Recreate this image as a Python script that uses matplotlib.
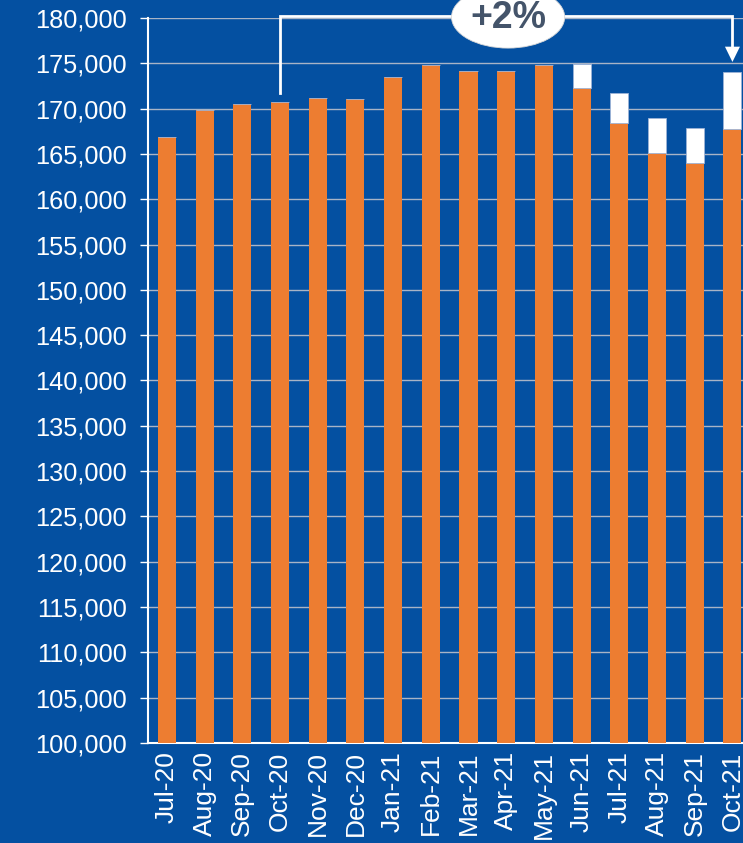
import numpy as np
from matplotlib import pyplot as plt
from matplotlib.patches import Ellipse

months = ['Jul-20','Aug-20','Sep-20','Oct-20','Nov-20','Dec-20','Jan-21','Feb-21',
          'Mar-21','Apr-21','May-21','Jun-21','Jul-21','Aug-21','Sep-21','Oct-21']
# reported values (orange) and the extra part on top (white)
base = [166850,169900,170500,170750,171200,171050,173450,174800,
        174200,174150,174800,172300,168450,165100,164050,167800]
extra = [0,0,0,0,0,0,0,0,0,0,0,2600,3250,3900,3850,6250]
yticks = np.arange(100000,180001,5000)
change_label = '+2%'

bg = '#0450A1'
orange = '#ED7D31'

plt.rcParams['font.family'] = ['Liberation Sans','DejaVu Sans']

fig = plt.figure(figsize=(7.43,8.43),dpi=100)
fig.patch.set_facecolor(bg)
ax = fig.add_axes([148/743, 100/843, 595/743, 725/843])
ax.set_facecolor(bg)

x = np.arange(len(months))
w = 0.48
ax.bar(x, np.array(base)-100000, w, bottom=100000, color=orange, zorder=3)
ax.bar(x, np.array(extra), w, bottom=base, color='white', edgecolor='#9DB3D6',
       linewidth=0.6, zorder=3)

ax.set_ylim(100000,180000)
ax.set_xlim(-0.5, 15.28)
ax.set_yticks(yticks)
ax.set_yticklabels(['{:,}'.format(v) for v in yticks])
ax.set_xticks(x)
ax.set_xticklabels(months, rotation=90)
ax.tick_params(axis='y', colors='white', labelsize=18.3, length=6, width=1, pad=9)
ax.tick_params(axis='x', colors='white', labelsize=19, length=0, pad=6)
ax.grid(axis='y', color='#A9B4C6', linewidth=1, zorder=0)
for s in ['top','right']:
    ax.spines[s].set_visible(False)
for s in ['left','bottom']:
    ax.spines[s].set_color('white')
    ax.spines[s].set_linewidth(1.5)

# bracket from Oct-20 to Oct-21
i0, i1 = 3, 15
ytop = 180200
ax.plot([i0,i0,i1,i1],[171700,ytop,ytop,176700], color='white', lw=2, clip_on=False,
        zorder=5, solid_joinstyle='miter')
ax.annotate('', xy=(i1,175150), xytext=(i1,176800),
            arrowprops=dict(arrowstyle='-|>,head_width=0.27,head_length=0.55', mutation_scale=20,
                            color='white', lw=0, shrinkA=0, shrinkB=0),
            annotation_clip=False, zorder=6)
el = Ellipse((9.05,180100), 3.0, 6840, facecolor='white', edgecolor='#D8D8D8', lw=0.6,
             clip_on=False, zorder=6)
ax.add_patch(el)
ax.text(9.05,179950, change_label, ha='center', va='center', fontsize=27, fontweight='bold',
        color='#44546A', zorder=7, clip_on=False)

plt.savefig('out.png', dpi=100, facecolor=bg)
